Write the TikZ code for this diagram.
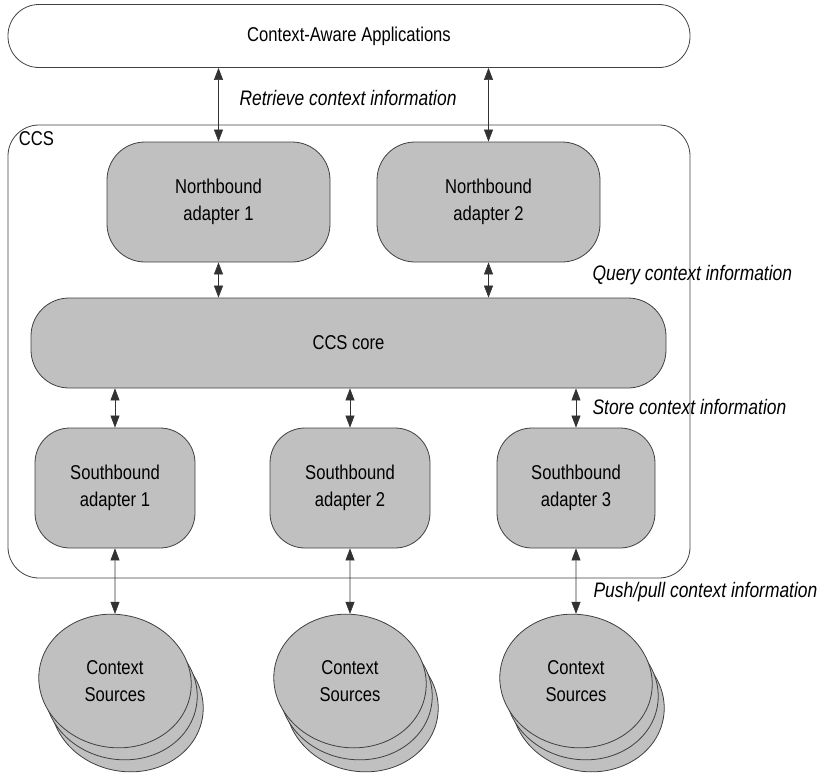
\documentclass[tikz,border=0pt]{standalone}
\usepackage{fontspec}
\setmainfont{Liberation Sans}[FakeStretch=0.83]
\usetikzlibrary{shapes.geometric, arrows.meta, positioning}
\definecolor{boxfill}{RGB}{192,192,192}
\definecolor{boxline}{RGB}{64,64,64}
\definecolor{arrowline}{RGB}{50,50,50}

\begin{document}
\begin{tikzpicture}[
    x=1pt, y=-1pt,
    font=\fontsize{20}{27}\selectfont,
    frame/.style={rectangle, draw=boxline, line width=0.8pt, rounded corners=31pt},
    block/.style={rectangle, draw=boxline, fill=boxfill, line width=0.8pt, align=center, rounded corners=38pt},
    source/.style={ellipse, draw=boxline, fill=boxfill, line width=0.8pt, minimum width=153pt, minimum height=133pt, inner sep=0pt, rotate=-10},
    arrow/.style={{Triangle[length=12pt,width=9pt]}-{Triangle[length=12pt,width=9pt]}, draw=arrowline, line width=0.6pt},
    label/.style={font=\fontsize{21}{27}\selectfont\itshape}
]
\useasboundingbox (0,0) rectangle (826,779);

% applications and the CCS frame
\node[frame, minimum width=682pt, minimum height=63pt] (apps) at (349,36) {Context-Aware Applications};
\node[frame, minimum width=682pt, minimum height=453pt] (ccs) at (349,351.5) {};
\node[below right=7pt and 11pt of ccs.north west, inner sep=0pt] (ccstag) {CCS};

% adapters and core
\node[block, minimum width=223pt, minimum height=120pt] (nb1) at (218.5,202) {Northbound\\adapter 1};
\node[block, minimum width=223pt, minimum height=120pt] (nb2) at (488.5,202) {Northbound\\adapter 2};
\node[block, minimum width=635pt, minimum height=90pt] (core) at (348.5,343) {CCS core};
\node[block, minimum width=160pt, minimum height=120pt, rounded corners=35pt] (sb1) at (115,488) {Southbound\\adapter 1};
\node[block, minimum width=160pt, minimum height=120pt, rounded corners=35pt] (sb2) at (350,488) {Southbound\\adapter 2};
\node[block, minimum width=158pt, minimum height=120pt, rounded corners=35pt] (sb3) at (576,488) {Southbound\\adapter 3};

% context sources, stacked
\foreach \x in {115, 350, 576} {
  \node[source] at (\x+12,705) {};
  \node[source] at (\x+6,693) {};
}
\node[source] (src1) at (115,681) {};
\node[source] (src2) at (350,681) {};
\node[source] (src3) at (576,681) {};
\node[align=center] (src1text) at (src1) {Context\\Sources};
\node[align=center] (src2text) at (src2) {Context\\Sources};
\node[align=center] (src3text) at (src3) {Context\\Sources};

% labels
\node[label] (retrieve) at (348,98) {Retrieve context information};
\node[label, anchor=west] (query) at (589,275) {Query context information};
\node[label, anchor=west] (store) at (589,407) {Store context information};
\node[label, anchor=west] (push) at (590,592) {Push/pull context information};

% connectors
\draw[arrow] (apps.south -| nb1.north) -- (nb1.north);
\draw[arrow] (apps.south -| nb2.north) -- (nb2.north);
\draw[arrow] (nb1.south) -- (nb1.south |- core.north);
\draw[arrow] (nb2.south) -- (nb2.south |- core.north);
\draw[arrow] (core.south -| sb1.north) -- (sb1.north);
\draw[arrow] (core.south -| sb2.north) -- (sb2.north);
\draw[arrow] (core.south -| sb3.north) -- (sb3.north);
\draw[arrow] (sb1.south) -- (src1);
\draw[arrow] (sb2.south) -- (src2);
\draw[arrow] (sb3.south) -- (src3);

\end{tikzpicture}
\end{document}
